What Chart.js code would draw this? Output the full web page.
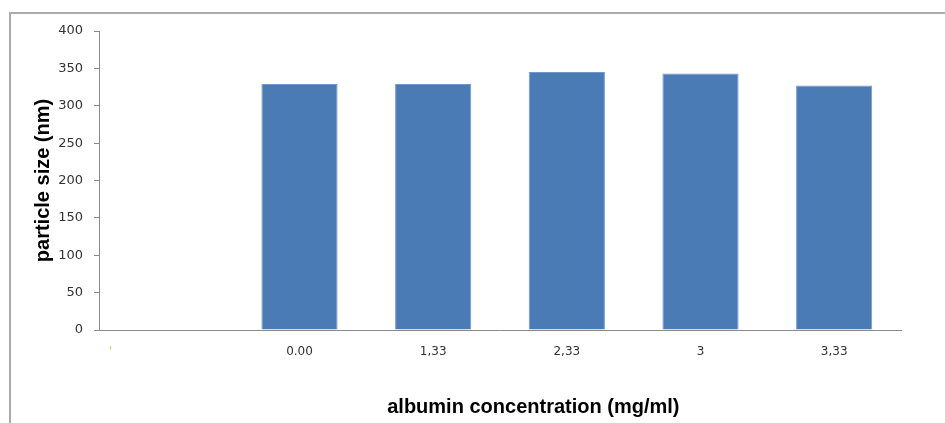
<!DOCTYPE html>
<html>
<head>
<meta charset="utf-8">
<script src="https://cdn.jsdelivr.net/npm/chart.js@4/dist/chart.umd.min.js"></script>
<style>
  html, body { margin: 0; padding: 0; background: #fff; }
  #wrap { position: relative; width: 945px; height: 423px; }
  #frame { position: absolute; left: 9px; top: 12px; right: 0; bottom: 0;
           border-top: 2px solid #ababab; border-left: 2px solid #ababab; }
  canvas { position: absolute; left: 0; top: 0; }
</style>
</head>
<body>
<div id="wrap">
  <div id="frame"></div>
  <canvas id="c" width="945" height="423"></canvas>
</div>
<script>
// Data
const categories = ["'" + " ".repeat(29), "0.00", "1,33", "2,33", "3", "3,33"];
const particleSize = [null, 329, 329, 345, 343, 327];
const yTicks = { min: 0, max: 400, step: 50 };
const xTitle = "albumin concentration (mg/ml)";
const yTitle = "particle size (nm)";
const tickColors = ["#f5b75a", "#333", "#333", "#333", "#333", "#333"];

const axisColor = "#8a8a8a";

new Chart(document.getElementById('c'), {
  type: 'bar',
  data: {
    labels: categories,
    datasets: [{
      data: particleSize,
      backgroundColor: '#4b7bb5',
      borderColor: '#7097c8',
      borderWidth: 1,
      categoryPercentage: 1,
      barPercentage: 0.57
    }]
  },
  options: {
    responsive: false,
    animation: false,
    layout: { padding: { left: 0, right: 44, top: 31, bottom: 0 } },
    plugins: { legend: { display: false }, tooltip: { enabled: false } },
    scales: {
      x: {
        grid: { display: true, drawOnChartArea: false, drawTicks: false },
        border: { display: true, color: axisColor, width: 1 },
        ticks: {
          color: tickColors,
          font: { family: 'DejaVu Sans', size: 12 },
          padding: 15,
          maxRotation: 0,
          autoSkip: false
        },
        title: {
          display: true,
          text: " ".repeat(12) + xTitle,
          color: '#000',
          font: { family: 'Liberation Sans', size: 20, weight: 'bold' },
          padding: { top: 0, bottom: 4 }
        },
        afterFit: s => { s.height = 93; }
      },
      y: {
        min: yTicks.min,
        max: yTicks.max,
        grid: { display: true, drawOnChartArea: false, drawTicks: true, tickLength: 5, color: axisColor },
        border: { display: true, color: axisColor, width: 1 },
        ticks: {
          stepSize: yTicks.step,
          color: '#333',
          font: { family: 'DejaVu Sans', size: 13 },
          padding: 11
        },
        title: {
          display: true,
          text: yTitle,
          color: '#000',
          font: { family: 'Liberation Sans', size: 20, weight: 'bold' },
          padding: { top: 31, bottom: 0 }
        },
        afterFit: s => { s.width = 99; }
      }
    }
  }
});
</script>
</body>
</html>
